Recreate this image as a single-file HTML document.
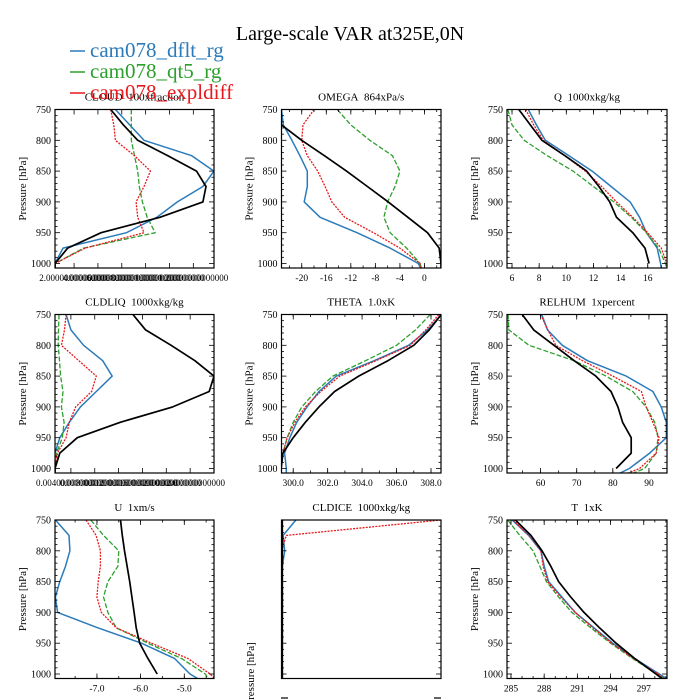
<!DOCTYPE html>
<html><head><meta charset="utf-8">
<style>
body{margin:0;background:#fff;}
svg{display:block;font-family:"Liberation Serif",serif;}
</style></head>
<body>
<svg id="chart" width="700" height="700" viewBox="0 0 700 700" xmlns="http://www.w3.org/2000/svg">
<rect width="700" height="700" fill="#fff"/>
<text x="350" y="40" text-anchor="middle" font-size="20">Large-scale VAR at325E,0N</text>
</svg>
<script>
const levels=[750,775,800,825,850,875,900,925,950,975,1000,1008];
const seriesNames=["obs","cam078_dflt_rg","cam078_qt5_rg","cam078_expldiff"];
// CLOUD (fraction of axis)
const cloudObs=[0.35,0.43,0.52,0.71,0.89,0.95,0.93,0.66,0.29,0.08,0.0,0.0];
const cloudDflt=[0.38,0.47,0.56,0.86,1.0,0.93,0.77,0.64,0.45,0.05,0.0,0.0];
const cloudQt5=[0.48,0.48,0.48,0.50,0.52,0.53,0.55,0.58,0.63,0.18,0.0,0.0];
const cloudExp=[0.35,0.37,0.38,0.50,0.60,0.56,0.51,0.52,0.56,0.19,0.0,0.0];
// OMEGA
const omegaObs=[-26,-23.3,-20,-16.3,-12.7,-9.3,-5.9,-2.7,0.5,2.4,2.7,2.7];
const omegaDflt=[-23.3,-23,-21.6,-20.3,-19.1,-19.1,-19.6,-17,-11,-5.6,-1.0,-0.6];
const omegaQt5=[-14.2,-12,-8.9,-5.2,-4,-4.8,-6.0,-6.6,-5.6,-2.9,-0.7,-0.5];
const omegaExp=[-18,-19.8,-20,-19.1,-17.4,-16.2,-15.1,-13,-8.3,-4,-0.7,-0.5];
// Q
const qObs=[6.5,7.35,8.2,9.9,11.5,12.4,13.2,13.7,14.9,15.8,16.1,null];
const qDflt=[7.2,7.8,8.45,10.2,11.9,13.3,14.7,15.4,15.9,16.7,16.95,17.0];
const qQt5=[5.7,6.0,6.9,8.6,10.5,12.0,13.5,14.8,15.9,16.8,17.3,17.4];
const qExp=[7.0,7.6,8.3,9.9,11.4,12.6,13.7,14.9,16.0,17.0,17.4,17.45];
// CLDLIQ (fraction of axis)
const liqObs=[0.49,0.57,0.73,0.88,1.0,0.97,0.74,0.41,0.14,0.03,0,0];
const liqDflt=[0.07,0.10,0.18,0.30,0.36,0.26,0.16,0.09,0.03,0,0,0];
const liqQt5=[0.025,0.022,0.02,0.028,0.035,0.05,0.04,0.057,0.046,0.01,0,0];
const liqExp=[0.07,0.06,0.04,0.15,0.26,0.23,0.13,0.09,0.07,0.015,0,0];
// THETA
const thetaObs=[308.6,307.9,307.0,305.5,303.8,302.4,301.5,300.7,300.0,299.4,299.3,299.3];
const thetaDflt=[308.6,307.8,306.7,304.7,302.5,301.5,300.8,300.2,299.8,299.5,299.6,299.6];
const thetaQt5=[307.96,307.1,306.0,304.2,302.3,301.3,300.5,300.0,299.65,299.4,299.3,299.3];
const thetaExp=[308.45,307.7,306.8,304.8,302.7,301.6,300.7,300.1,299.65,299.4,299.3,299.3];
// RELHUM
const rhObs=[54.9,58.1,63.7,69.3,75.3,79.5,81.4,82.7,85.1,85.1,80.9,null];
const rhDflt=[60.3,61.9,66.0,73,83.7,91.1,93.4,94.8,94.8,90.2,84.6,81.8];
const rhQt5=[51,51.2,56.8,69.3,78.1,85.5,89.2,91.6,92.5,92,88.8,85.5];
const rhExp=[60,62,64.2,71.6,80,87.9,89.2,91.1,92.8,92,87.4,84];
// U
const uObs=[-6.46,-6.42,-6.37,-6.31,-6.25,-6.2,-6.15,-6.1,-6.02,-5.83,-5.62,null];
const uDflt=[-7.95,-7.64,-7.62,-7.72,-7.85,-7.95,-7.9,-6.98,-5.98,-5.22,-4.87,-4.68];
const uQt5=[-7.14,-6.85,-6.5,-6.52,-6.75,-6.85,-6.75,-6.56,-5.83,-5.06,-4.52,-4.45];
const uExp=[-7.25,-7.02,-6.92,-6.92,-6.97,-7.0,-6.9,-6.56,-5.75,-4.91,-4.41,-4.3];
// CLDICE (fraction of axis)
const iceObs=[0.005,0.005,0.005,0.005,0.005,0.005,0.005,0.005,0.005,0.005,0.005,0.005];
const iceDflt=[0.09,0.01,0.02,0.005,0.005,0.005,0.005,0.005,0.005,0.005,0.005,0.005];
const iceQt5=[0.004,0.004,0.004,0.004,0.004,0.004,0.004,0.004,0.004,0.004,0.004,0.004];
const iceExp=[1.0,0.03,0,0,0,0,0,0,0,0,0,0];
// T
const tObs=[285.4,286.8,287.8,288.6,289.3,290.4,291.6,293.0,294.5,296.2,298.1,298.7];
const tDflt=[285.1,286.6,287.7,288.0,288.4,289.6,290.8,292.5,294.2,296.2,298.4,299.1];
const tQt5=[284.7,285.8,287.0,287.6,288.2,289.3,290.5,292.2,294.0,296.0,298.2,298.9];
const tExp=[285.2,286.6,287.7,287.9,288.3,289.5,290.8,292.4,294.1,296.1,298.3,298.9];

const pTicks=[750,800,850,900,950,1000];
const cloudTickLabels=["2.00000000000000","4.00000000000000","6.00000000000000","8.00000000000000","1.00000000000000","1.20000000000000"];
const liqTickLabels=["0.00400000000000","0.00800000000000","0.01200000000000","0.01600000000000","0.02000000000000","0.02400000000000"];

const NS="http://www.w3.org/2000/svg";
const svg=document.getElementById('chart');
function mk(tag,attrs,parent){const e=document.createElementNS(NS,tag);for(const k in attrs)e.setAttribute(k,attrs[k]);(parent||svg).appendChild(e);return e;}
const colors=["#000000","#2b7bba","#2ca02c","#e8191c"];
const dashes=["none","none","5,2","2,1.2"];
const widths=[1.7,1.5,1.3,1.3];
const S="\u00a0 ";

const panels=[
 {name:"cloud",title:"CLOUD"+S+"100xfraction",col:0,row:0,dom:[0,1],data:[cloudObs,cloudDflt,cloudQt5,cloudExp],ticks:[0.12,0.27,0.42,0.57,0.72,0.87],labels:cloudTickLabels,minor:0},
 {name:"omega",title:"OMEGA"+S+"864xPa/s",col:1,row:0,dom:[-23.3,2.7],data:[omegaObs,omegaDflt,omegaQt5,omegaExp],ticks:[-20,-16,-12,-8,-4,0],minor:2},
 {name:"q",title:"Q"+S+"1000xkg/kg",col:2,row:0,dom:[5.63,17.42],data:[qObs,qDflt,qQt5,qExp],ticks:[6,8,10,12,14,16],minor:1},
 {name:"cldliq",title:"CLDLIQ"+S+"1000xkg/kg",col:0,row:1,dom:[0,1],data:[liqObs,liqDflt,liqQt5,liqExp],ticks:[0.1,0.25,0.4,0.55,0.7,0.85],labels:liqTickLabels,minor:0},
 {name:"theta",title:"THETA"+S+"1.0xK",col:1,row:1,dom:[299.32,308.58],data:[thetaObs,thetaDflt,thetaQt5,thetaExp],ticks:[300,302,304,306,308],fmt:1,minor:1},
 {name:"relhum",title:"RELHUM"+S+"1xpercent",col:2,row:1,dom:[50.7,95.0],data:[rhObs,rhDflt,rhQt5,rhExp],ticks:[60,70,80,90],minor:5},
 {name:"u",title:"U"+S+"1xm/s",col:0,row:2,dom:[-7.96,-4.32],data:[uObs,uDflt,uQt5,uExp],ticks:[-7,-6,-5],fmt:1,minor:0.5},
 {name:"cldice",title:"CLDICE"+S+"1000xkg/kg",col:1,row:2,dom:[0,1],data:[iceObs,iceDflt,iceQt5,iceExp],ticks:[],noY:true,minor:0},
 {name:"t",title:"T"+S+"1xK",col:2,row:2,dom:[284.64,299.1],data:[tObs,tDflt,tQt5,tExp],ticks:[285,288,291,294,297],minor:1}
];
const colX=[[55,214],[281.5,441],[507,667]];
const rowY=[109.5,314.5,520];

panels.forEach((p,pi)=>{
  const x0=colX[p.col][0],x1=colX[p.col][1],top=rowY[p.row],bot=top+158.5;
  const xs=v=>x0+(v-p.dom[0])/(p.dom[1]-p.dom[0])*(x1-x0);
  const ys=v=>top+(v-750)/250*154;
  const g=mk('g',{});
  
  
  const cid='clip'+pi;
  const cp=mk('clipPath',{id:cid},g);mk('rect',{x:x0,y:top,width:x1-x0,height:bot-top},cp);
  const t=mk('text',{x:(x0+x1)/2,y:top-9,'text-anchor':'middle','font-size':11},g);t.textContent=p.title;
  
  
  const sg=mk('g',{'clip-path':'url(#'+cid+')'},g);
  [1,2,3,0].forEach(si=>{
    const arr=p.data[si];let d="";
    arr.forEach((v,i)=>{if(v===null)return;d+=(d?"L":"M")+xs(v).toFixed(1)+","+ys(levels[i]).toFixed(1);});
    const path=mk('path',{d:d,fill:'none',stroke:colors[si],'stroke-width':widths[si],'stroke-dasharray':dashes[si],'stroke-linejoin':'round'},sg);
    
    
  });
  const fr=mk('rect',{x:x0,y:top,width:x1-x0,height:bot-top,fill:'none',stroke:'#000','stroke-width':1.2},g);
  
  
  for(let pv=750;pv<=1000;pv+=10){
    const y=ys(pv),L=(pv%50===0)?5:2.5;
    mk('line',{x1:x0,x2:x0+L,y1:y,y2:y,stroke:'#000','stroke-width':0.8},g);
    mk('line',{x1:x1,x2:x1-L,y1:y,y2:y,stroke:'#000','stroke-width':0.8},g);
  }
  if(!p.noY){
    pTicks.forEach(pv=>{const tt=mk('text',{x:x0-4,y:ys(pv)+3.5,'text-anchor':'end','font-size':10},g);tt.textContent=pv;
      
      });
    const yl=mk('text',{x:0,y:0,transform:`translate(${x0-29},${(top+bot)/2}) rotate(-90)`,'text-anchor':'middle','font-size':11},g);
    yl.textContent="Pressure [hPa]";
    
    
  }
  if(p.minor){
    for(let v=Math.ceil(p.dom[0]/p.minor)*p.minor;v<=p.dom[1];v+=p.minor){
      const x=xs(v);
      mk('line',{x1:x,x2:x,y1:bot,y2:bot-2.5,stroke:'#000','stroke-width':0.8},g);
      mk('line',{x1:x,x2:x,y1:top,y2:top+2.5,stroke:'#000','stroke-width':0.8},g);
    }
  }
  p.ticks.forEach((v,i)=>{
    const x=xs(v);
    mk('line',{x1:x,x2:x,y1:bot,y2:bot-5,stroke:'#000','stroke-width':0.8},g);
    mk('line',{x1:x,x2:x,y1:top,y2:top+5,stroke:'#000','stroke-width':0.8},g);
    const lab=p.labels?p.labels[i]:(p.fmt?v.toFixed(p.fmt):String(v));
    const tt=mk('text',{x:x,y:bot+13,'text-anchor':'middle','font-size':p.labels?9:9.5},g);
    tt.textContent=lab;
    
    
  });
});
const st=mk('text',{x:0,y:0,transform:'translate(254,706) rotate(-90)','font-size':11});
st.textContent="Pressure [hPa]";


mk('line',{x1:281,x2:288,y1:698,y2:698,stroke:'#000','stroke-width':1.2});
mk('line',{x1:434,x2:441,y1:698,y2:698,stroke:'#000','stroke-width':1.2});
const legItems=[[1,"cam078_dflt_rg",57],[2,"cam078_qt5_rg",78],[3,"cam078_expldiff",99]];
legItems.forEach(li=>{
  const g=mk('g',{});
  
  
  mk('line',{x1:70,x2:85,y1:li[2]-6,y2:li[2]-6,stroke:colors[li[0]],'stroke-width':1.5},g);
  const t=mk('text',{x:90,y:li[2],'font-size':21,fill:colors[li[0]]},g);t.textContent=li[1];
});
</script>
</body></html>
